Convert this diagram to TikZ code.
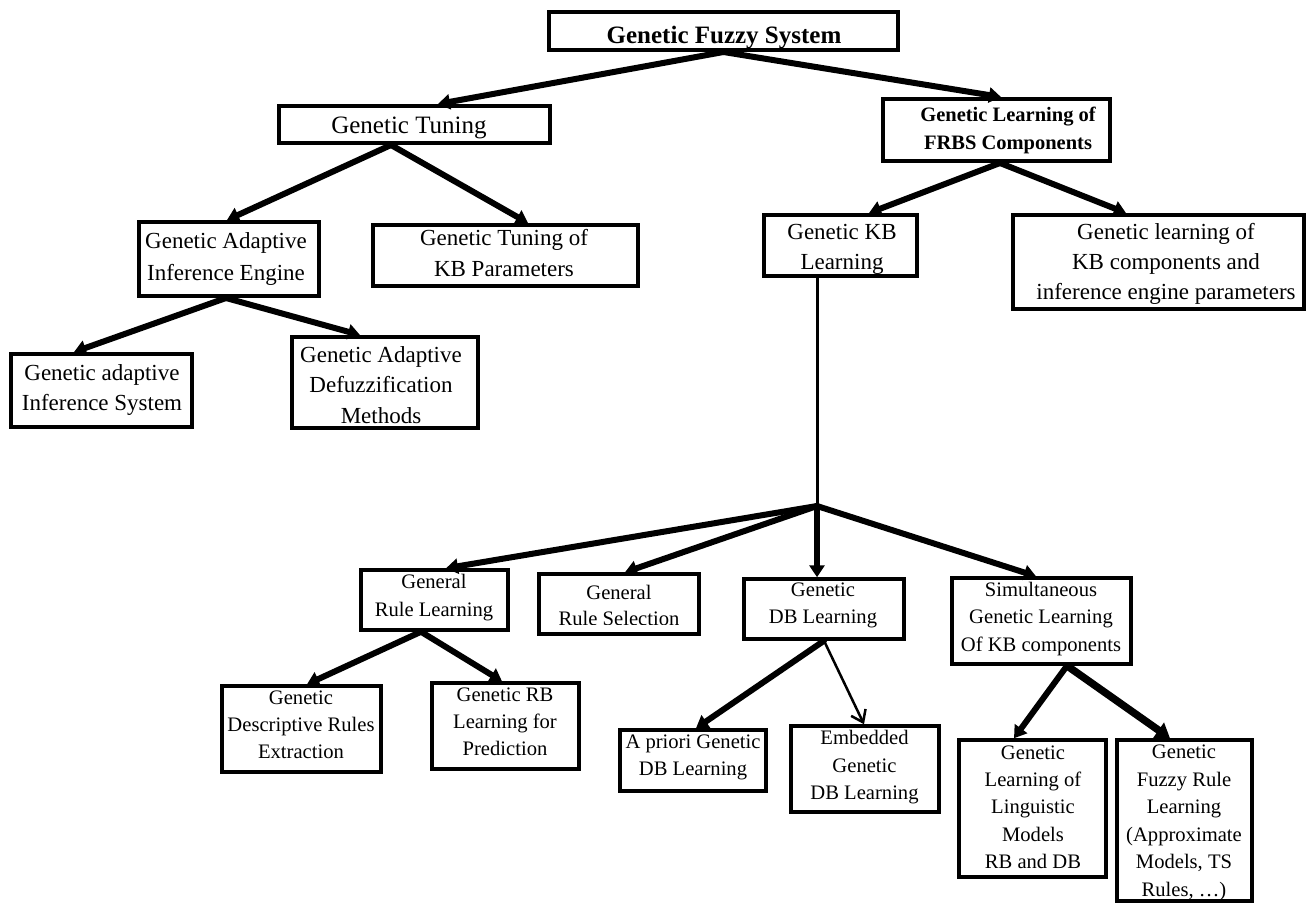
\documentclass[tikz,border=0pt]{standalone}
\usepackage{fontspec}
\setmainfont{Liberation Serif}
\usetikzlibrary{arrows.meta}

% \gfsbox[options]{name}{x1}{y1}{x2}{y2}: framed box given by its outer corners
\newcommand\gfsbox[6][]{%
  \node[box,#1,minimum width={#5-#3-4},minimum height={#6-#4-4}] (#2)
    at ({(#3+#5)/2},{(#4+#6)/2}) {};}

\tikzset{
  box/.style={draw, line width=4pt, inner sep=0pt},
  lowbox/.style={line width=3.5pt},
  lbl/.style={align=center, inner sep=0pt,
    execute at begin node=\strut, execute at end node=\strut},
  fs/.style 2 args={font=\fontsize{#1}{#2}\selectfont},
  fsb/.style 2 args={font=\bfseries\fontsize{#1}{#2}\selectfont},
  arr/.style={line width=6pt, line cap=round, -{Triangle[length=12pt,width=15pt]}},
  thinarr/.style={line width=2.5pt, -{Straight Barb[length=11pt,width=16pt]}},
  heavyarr/.style={line width=7.5pt, line cap=round, -{Triangle[length=14pt,width=18pt]}},
  trunk/.style={line width=3pt},
}

\begin{document}
\begin{tikzpicture}[x=1pt,y=-1pt]
\path[use as bounding box] (0,0) rectangle (1309,908);

% ---- boxes ----
\gfsbox{gfs}{547}{10}{900}{52}
\gfsbox{gt}{277}{104}{552}{145}
\gfsbox{gaie}{137}{220}{321}{298}
\gfsbox{kbp}{371}{223}{640}{288}
\gfsbox{gais}{9}{352}{194}{429}
\gfsbox{defz}{290}{335}{480}{430}
\gfsbox{frbs}{881}{97}{1112}{163}
\gfsbox{kbl}{762}{213}{919}{278}
\gfsbox{kbc}{1011}{213}{1306}{311}
\gfsbox[lowbox]{grl}{359}{568}{510}{632}
\gfsbox[lowbox]{grs}{537}{572}{701}{636}
\gfsbox[lowbox]{gdb}{742}{577}{906}{641}
\gfsbox[lowbox]{sim}{950}{576}{1133}{666}
\gfsbox[lowbox]{gdre}{220}{684}{383}{774}
\gfsbox[lowbox]{grbp}{430}{681}{581}{771}
\gfsbox[lowbox]{apr}{618}{728}{768}{793}
\gfsbox[lowbox]{emb}{789}{724}{941}{814}
\gfsbox[lowbox]{ling}{957}{738}{1108}{879}
\gfsbox[lowbox]{fzr}{1115}{738}{1254}{903}

% ---- labels ----
\node[lbl,fsb={25}{30}] (gfs-t) at (724,37.5) {Genetic Fuzzy System};
\node[lbl,fs={25}{30}] (gt-t) at (409,127.3) {Genetic Tuning};
\node[lbl,fs={23}{31.8}] (gaie-t) at (226,261.2) {Genetic Adaptive\\Inference Engine};
\node[lbl,fs={23}{31}] (kbp-t) at (504,257.7) {Genetic Tuning of\\KB Parameters};
\node[lbl,fs={23}{30}] (gais-t) at (102,392.4) {Genetic adaptive\\Inference System};
\node[lbl,fs={23}{30.4}] (defz-t) at (381,389.4) {Genetic Adaptive\\Defuzzification\\Methods};
\node[lbl,fsb={20.5}{28.3}] (frbs-t) at (1008,132.4) {Genetic Learning of\\FRBS Components};
\node[lbl,fs={23}{29.5}] (kbl-t) at (842,251.5) {Genetic KB\\Learning};
\node[lbl,fs={23}{30}] (kbc-t) at (1166,265.8) {Genetic learning of\\KB components and\\inference engine parameters};
\node[lbl,fs={20.6}{27.2}] (grl-t) at (434,599.5) {General\\Rule Learning};
\begin{scope}
  \clip (540,575) rectangle (698,624);
  \node[lbl,fs={20.6}{26}] (grs-t) at (619,609.3) {General\\Rule Selection};
\end{scope}
\node[lbl,fs={20.6}{27.3}] (gdre-t) at (301,728.6) {Genetic\\Descriptive Rules\\Extraction};
\node[lbl,fs={20.6}{26.7}] (grbp-t) at (505,725.7) {Genetic RB\\Learning for\\Prediction};
\node[lbl,fs={20.6}{26.7}] (apr-t) at (693,759.1) {A priori Genetic\\DB Learning};
\node[lbl,fs={20.6}{27.5}] (gdb-t) at (823,607.5) {Genetic\\DB Learning};
\node[lbl,fs={20.6}{27.5}] (sim-t) at (1041,620.5) {Simultaneous\\Genetic Learning\\Of KB components};
\node[lbl,fs={20.6}{27.5}] (emb-t) at (864.5,769.1) {Embedded\\Genetic\\DB Learning};
\node[lbl,fs={20.6}{27.3}] (ling-t) at (1033,811) {Genetic\\Learning of\\Linguistic\\Models\\RB and DB};
\node[lbl,fs={20.6}{27.5}] (fzr-t) at (1184,825) {Genetic\\Fuzzy Rule\\Learning\\(Approximate\\Models, TS\\Rules, …)};

% ---- connectors ----
\draw[arr] (gfs.south) -- ([xshift=23.5]gt.north);
\draw[arr] (gfs.south) -- ([xshift=4.5]frbs.north);
\draw[arr] ([xshift=-23.5]gt.south) -- ([xshift=-2]gaie.north);
\draw[arr] ([xshift=-23.5]gt.south) -- ([xshift=22.5]kbp.north);
\draw[arr] ([xshift=-3]gaie.south) -- ([xshift=-27.5]gais.north);
\draw[arr] ([xshift=-3]gaie.south) -- ([xshift=-25]defz.north);
\draw[arr] ([xshift=3.5]frbs.south) -- ([xshift=28.5]kbl.north);
\draw[arr] ([xshift=3.5]frbs.south) -- ([xshift=-32.5]kbc.north);

\coordinate (J) at (817,506);
\draw[trunk] ([xshift=-23.5]kbl.south) -- (J);
\draw[arr] (J) -- ([xshift=11.5]grl.north);
\draw[arr] (J) -- ([xshift=6]grs.north);
\draw[arr] (J) -- ([xshift=-7]gdb.north);
\draw[arr] (J) -- ([xshift=-5.5]sim.north);

\draw[arr] ([xshift=-13.5]grl.south) -- ([xshift=5.5]gdre.north);
\draw[arr] ([xshift=-13.5]grl.south) -- ([xshift=-3.5]grbp.north);
\draw[arr] (gdb.south) -- ([xshift=3]apr.north);
\draw[thinarr] (gdb.south) -- ([xshift=-1]emb.north);
\draw[arr] ([xshift=25.5]sim.south) -- ([xshift=-18.5]ling.north);
\draw[heavyarr] ([xshift=25.5]sim.south) -- ([xshift=-14.5]fzr.north);
\end{tikzpicture}
\end{document}
